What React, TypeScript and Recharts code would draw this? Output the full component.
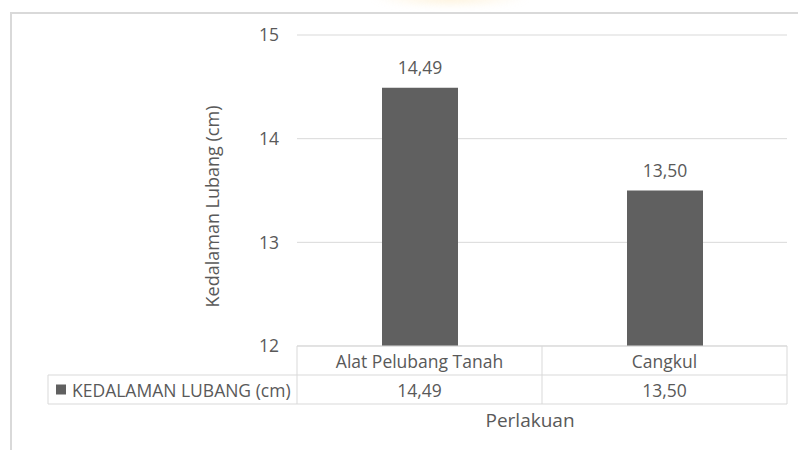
import React from 'react';
import { BarChart, Bar, XAxis, YAxis, CartesianGrid, LabelList } from 'recharts';

// Kedalaman lubang tanam per perlakuan (cm)
const categories = ['Alat Pelubang Tanah', 'Cangkul'];
const depths = [14.49, 13.5];
const yTicks = [12, 13, 14, 15];
const seriesName = 'KEDALAMAN LUBANG (cm)';

const data = categories.map((name, i) => ({ name, value: depths[i] }));

const W = 798;
const H = 450;
const MARGIN = { top: 35, right: 11, bottom: 14, left: 0 };
const Y_AXIS_W = 297;
const X_AXIS_H = 90;
const BAND = (W - MARGIN.left - MARGIN.right - Y_AXIS_W) / categories.length;
const ROW = 29;
const HEADER_LEFT = 48;

const TEXT = '#595959';
const LINE = '#d9d9d9';
const BAR = '#606060';
const FONT = '"Open Sans", sans-serif';
const FS = 17.5;

const fmt = (v: number) => v.toFixed(2).replace('.', ',');

// category axis drawn as an Excel-style data table
const TableTick = (props: any) => {
  const { x, y, payload, index } = props;
  const left = x - BAND / 2;
  const right = x + BAND / 2;
  return (
    <g>
      <line x1={right} y1={y} x2={right} y2={y + ROW * 2} stroke={LINE} />
      <line x1={left} y1={y + ROW} x2={right} y2={y + ROW} stroke={LINE} />
      <line x1={left} y1={y + ROW * 2} x2={right} y2={y + ROW * 2} stroke={LINE} />
      <text x={x} y={y + ROW / 2} textAnchor="middle" dominantBaseline="central" fill={TEXT} fontSize={FS} fontFamily={FONT}>
        {payload.value}
      </text>
      <text x={x} y={y + ROW * 1.5} textAnchor="middle" dominantBaseline="central" fill={TEXT} fontSize={FS} fontFamily={FONT}>
        {fmt(depths[index])}
      </text>
      {index === 0 && (
        <g>
          <line x1={left} y1={y} x2={left} y2={y + ROW * 2} stroke={LINE} />
          <line x1={HEADER_LEFT} y1={y + ROW} x2={left} y2={y + ROW} stroke={LINE} />
          <line x1={HEADER_LEFT} y1={y + ROW * 2} x2={left} y2={y + ROW * 2} stroke={LINE} />
          <line x1={HEADER_LEFT} y1={y + ROW} x2={HEADER_LEFT} y2={y + ROW * 2} stroke={LINE} />
          <rect x={HEADER_LEFT + 8} y={y + ROW * 1.5 - 5} width={10} height={10} fill={BAR} />
          <text x={HEADER_LEFT + 24} y={y + ROW * 1.5} dominantBaseline="central" fill={TEXT} fontSize={FS} fontFamily={FONT}>
            {seriesName}
          </text>
        </g>
      )}
    </g>
  );
};

export default function App() {
  return (
    <div style={{ position: 'absolute', left: 0, top: 0, width: W, height: H, background: '#fff', overflow: 'hidden' }}>
      <div
        style={{
          position: 'absolute',
          left: 370,
          top: -12,
          width: 160,
          height: 20,
          borderRadius: '50%',
          background: 'radial-gradient(ellipse, rgba(252,222,160,0.4), rgba(252,230,180,0) 70%)',
          filter: 'blur(3px)',
        }}
      />
      <div
        style={{
          position: 'absolute',
          left: 10,
          top: 12,
          width: W,
          height: H,
          borderTop: `2px solid ${LINE}`,
          borderLeft: `2px solid ${LINE}`,
        }}
      />
      <div style={{ position: 'absolute', left: 0, top: 0 }}>
        <BarChart width={W} height={H} data={data} margin={MARGIN} style={{ fontFamily: FONT }}>
          <CartesianGrid horizontal vertical={false} stroke={LINE} />
          <XAxis
            dataKey="name"
            height={X_AXIS_H}
            axisLine={{ stroke: LINE }}
            tickLine={false}
            tickSize={0}
            tickMargin={0}
            interval={0}
            tick={<TableTick />}
            label={{ value: 'Perlakuan', position: 'center', dx: -12, dy: 29, fill: TEXT, fontSize: 19, fontFamily: FONT }}
          />
          <YAxis
            width={Y_AXIS_W}
            domain={[12, 15]}
            ticks={yTicks}
            axisLine={false}
            tickLine={false}
            tickMargin={12}
            tick={{ fill: TEXT, fontSize: FS, fontFamily: FONT }}
            label={{ value: 'Kedalaman Lubang (cm)', angle: -90, position: 'center', dx: 64, dy: 16, fill: TEXT, fontSize: 18, fontFamily: FONT }}
          />
          <Bar dataKey="value" fill={BAR} barSize={76} isAnimationActive={false}>
            <LabelList dataKey="value" position="top" offset={14} formatter={(v: any) => fmt(Number(v))} fill={TEXT} fontSize={FS} fontFamily={FONT} />
          </Bar>
        </BarChart>
      </div>
    </div>
  );
}
